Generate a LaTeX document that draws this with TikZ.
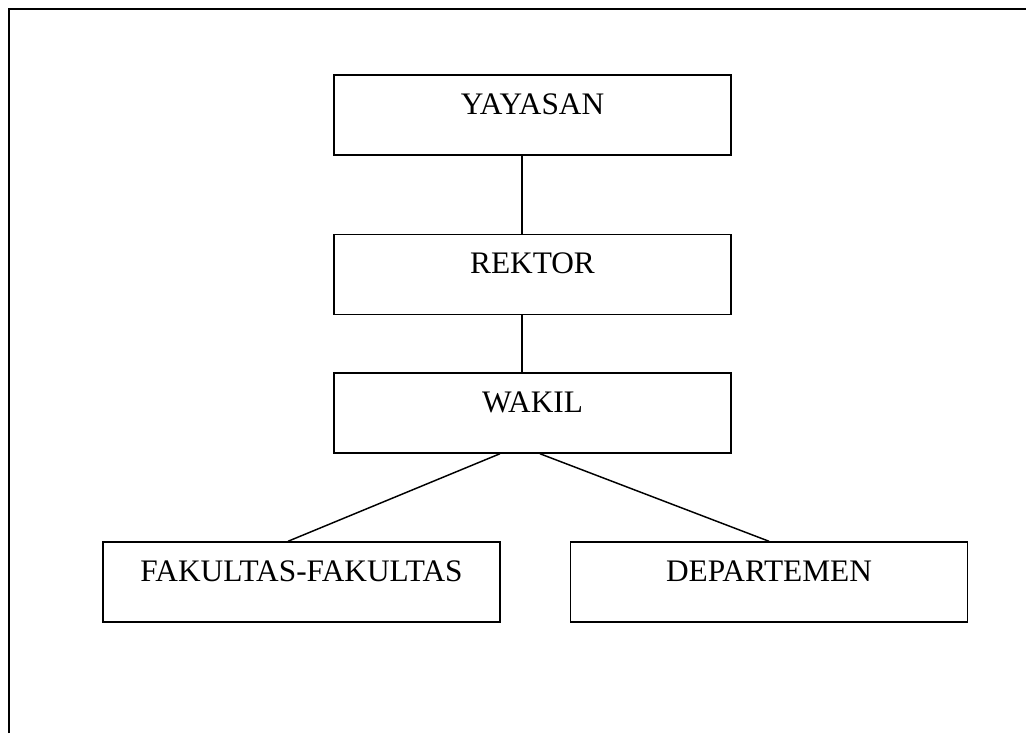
\documentclass[tikz,border=0pt]{standalone}
\usepackage{fontspec}
\setmainfont{Liberation Serif}
\begin{document}
\begin{tikzpicture}[x=0.75pt,y=-0.75pt,
	unit/.style={draw, line width=1.1pt, inner sep=0pt,
		minimum width=297.75pt, text height=29.25pt, text depth=30.75pt,
		font=\fontsize{23.5}{27}\selectfont},
	link/.style={line width=1.1pt}]

	\useasboundingbox (0,0) rectangle (1026,733);

	% frame
	\draw[line width=1.5pt] (9,733) -- (9,9) -- (1026,9);

	% units
	\node[unit] (yayasan) at (532.5,115) {YAYASAN};
	\node[unit] (rektor) at (532.5,274.5) {REKTOR};
	\node[unit] (wakil) at (532.5,413) {WAKIL};
	\node[unit] (fakultas) at (301.5,582) {FAKULTAS-FAKULTAS};
	\node[unit] (departemen) at (769,582) {DEPARTEMEN};

	% links
	\draw[link] ([xshift=-7.9pt]yayasan.south) -- ([xshift=-7.9pt]rektor.north);
	\draw[link] ([xshift=-7.9pt]rektor.south) -- ([xshift=-7.9pt]wakil.north);
	\draw[link] ([xshift=-24.4pt]wakil.south) -- ([xshift=-10.1pt]fakultas.north);
	\draw[link] ([xshift=5.6pt]wakil.south) -- (departemen.north);

\end{tikzpicture}
\end{document}
